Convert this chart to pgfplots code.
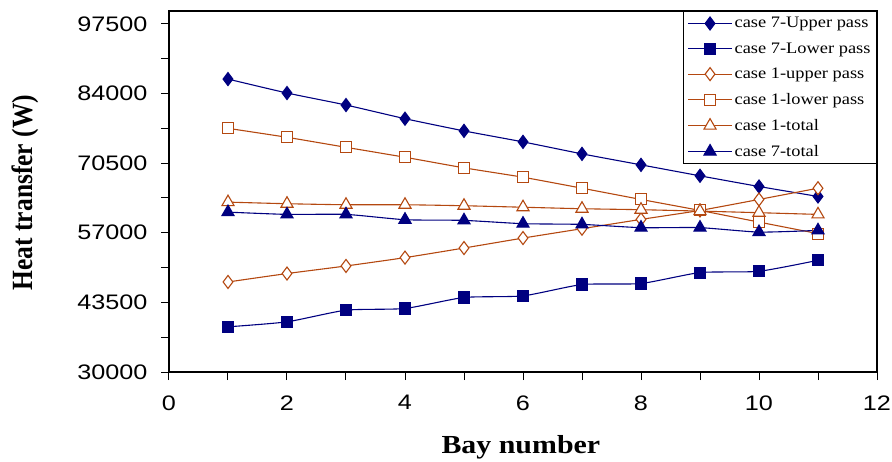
\documentclass[border=0pt]{standalone}
\usepackage{pgfplots}
\pgfplotsset{compat=1.18}
\usepackage{fontspec}
\setmainfont{Liberation Serif}
\newfontfamily\tickfont[FakeStretch=1.2]{Liberation Sans}
\newfontfamily\legfont[FakeStretch=1.15]{Liberation Serif}
\newfontfamily\labfont[FakeStretch=1.15]{Liberation Serif}
\definecolor{navy}{RGB}{0,0,128}
\definecolor{brn}{RGB}{180,72,16}
\begin{document}
\begin{tikzpicture}
\useasboundingbox (-169pt,-89pt) rectangle (723pt,372pt);
\begin{axis}[
  at={(0,0)}, anchor=south west, scale only axis,
  width=708pt, height=361pt,
  xmin=0, xmax=12, ymin=30000, ymax=100000,
  scaled y ticks=false, scaled x ticks=false,
  xtick={0,2,...,12}, xticklabels={0,2,4,6,8,10,12},
  minor xtick={1,3,...,11},
  ytick={30000,43500,57000,70500,84000,97500},
  yticklabels={30000,43500,57000,70500,84000,97500},
  minor ytick={36750,50250,63750,77250,90750},
  xtick pos=left, ytick pos=left,
  tick align=outside, major tick length=8pt, minor tick length=8pt,
  tick style={black, line width=1pt},
  axis line style={line width=1.3pt},
  ticklabel style={font=\tickfont\fontsize{21}{24}\selectfont},
  yticklabel style={xshift=-10pt},
  xticklabel style={yshift=-12pt},
  xlabel={\labfont\bfseries\fontsize{26}{30}\selectfont Bay number},
  ylabel={\scalebox{1}[1.15]{\bfseries\fontsize{25.5}{30}\selectfont Heat transfer (W)}},
  xlabel style={at={(axis description cs:0.497,-0.227)}, anchor=base},
  ylabel style={at={(axis description cs:-0.2034,0.497)}, anchor=center},
  legend style={at={(1,1)}, anchor=north east, draw=black, line width=1pt,
    font=\legfont\fontsize{16}{18}\selectfont, row sep=9.3pt, inner sep=4pt},
  legend cell align=left,
  legend image code/.code={\draw[mark repeat=2,mark phase=2,#1] plot coordinates {(0pt,0pt) (22pt,0pt) (44pt,0pt)};},
  every axis plot/.append style={line width=1.1pt, smooth, tension=0.35},
]
\addplot[navy, mark=diamond*, mark size=6.5pt, mark options={fill=navy}] coordinates {
(1,86800)(2,84100)(3,81770)(4,79120)(5,76750)(6,74620)(7,72300)(8,70170)(9,68040)(10,65970)(11,64040)};
\addlegendentry{case 7-Upper pass}
\addplot[navy, mark=square*, mark size=5.5pt, mark options={fill=navy}] coordinates {
(1,38760)(2,39730)(3,41990)(4,42320)(5,44450)(6,44760)(7,46960)(8,47160)(9,49280)(10,49530)(11,51660)};
\addlegendentry{case 7-Lower pass}
\addplot[brn, mark=diamond*, mark size=6.5pt, mark options={fill=white}] coordinates {
(1,47460)(2,49090)(3,50560)(4,52180)(5,54040)(6,55970)(7,57790)(8,59590)(9,61330)(10,63460)(11,65640)};
\addlegendentry{case 1-upper pass}
\addplot[brn, mark=square*, mark size=5.5pt, mark options={fill=white}] coordinates {
(1,77250)(2,75510)(3,73570)(4,71640)(5,69590)(6,67770)(7,65640)(8,63460)(9,61330)(10,59070)(11,56830)};
\addlegendentry{case 1-lower pass}
\addplot[brn, mark=triangle*, mark size=7pt, mark options={fill=white}] coordinates {
(1,62940)(2,62630)(3,62430)(4,62430)(5,62240)(6,61950)(7,61660)(8,61470)(9,61200)(10,60890)(11,60560)};
\addlegendentry{case 1-total}
\addplot[navy, mark=triangle*, mark size=7pt, mark options={fill=navy}] coordinates {
(1,61000)(2,60560)(3,60560)(4,59530)(5,59400)(6,58760)(7,58620)(8,57990)(9,57990)(10,57130)(11,57460)};
\addlegendentry{case 7-total}
\end{axis}
\end{tikzpicture}
\end{document}
